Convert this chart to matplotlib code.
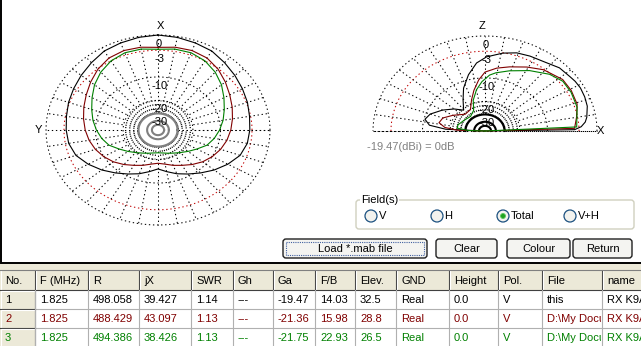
import numpy as np
import matplotlib.pyplot as plt
from matplotlib.patches import Rectangle, FancyBboxPatch, Circle
from matplotlib.transforms import Bbox, TransformedBbox

plt.rcParams['font.family'] = ['Liberation Sans', 'DejaVu Sans']

# relative gain (dB) of the three antennas
az_deg = [0, 10, 20, 30, 40, 50, 60, 70, 80, 90, 100, 110, 120, 130, 140, 150, 160, 170, 180]
az_black = [0, -0.17, -0.43, -0.70, -1.34, -1.90, -2.39, -2.79, -3.20, -3.41, -3.62, -4.26,
            -5.64, -7.26, -9.05, -10.73, -12.24, -13.9, -15.3]
az_red = [-2.39, -2.10, -2.0, -2.29, -3.09, -4.15, -5.17, -6.0, -6.74, -7.39, -8.07, -8.91,
          -9.95, -11.2, -12.8, -14.5, -15.9, -17.3, -18.0]
az_green = [-2.79, -2.49, -2.49, -3.0, -3.94, -5.17, -6.62, -7.93, -9.05, -10.26, -11.55, -13.1,
            -15.7, -18.0, -20.1, -21.8, -23.1, -24.1, -24.5]

el_black_deg = [0, 1, 3, 6, 9, 16, 22, 28, 33, 37, 45, 54, 63, 71, 79, 89, 96, 104, 113, 121, 131,
                140, 150, 160, 167, 173, 177, 180]
el_black = [-99, -3.83, -2.59, -1.81, -1.43, -0.88, -0.70, -0.61, -0.70, -0.88, -1.06, -1.81, -2.10,
            -2.39, -3.09, -4.26, -5.64, -8.48, -12.24, -16.6, -21.2,
            -17.5, -14.1, -11.2, -10.26, -11.9, -18.0, -99]
el_red_deg = [0, 2, 10, 19, 29, 38, 51, 61, 72, 81, 90, 96, 103, 110, 120, 135, 150, 160, 168, 174, 178, 180]
el_red = [-99, -3.83, -3.2, -2.39, -2.19, -2.19, -3.2, -4.49, -5.88, -6.87, -8.2, -10.57, -14.1,
          -18.0, -23.1, -23.8, -19.0, -15.7, -14.9, -17.5, -23.8, -99]
el_green_deg = [0, 3, 17, 28, 37, 46, 58, 71, 81, 86, 93, 100, 108, 115, 130, 150, 165, 173, 178, 180]
el_green = [-99, -3.41, -2.59, -2.39, -2.39, -3.2, -4.94, -6.87, -8.2, -9.05, -11.2, -14.1, -18.5,
            -24.5, -27.6, -26.0, -23.8, -23.8, -32.6, -99]

ring_db = [0, -3, -10, -20]
ring_lbl = ['0', '-3', '-10', '-20', '-30']
ring_lbl_db = [0, -3, -10, -20, -30]
center_db = [-30, -40, -50]

# table contents
headers = ["No.", "F (MHz)", "R", "jX", "SWR", "Gh", "Ga", "F/B", "Elev.", "GND", "Height", "Pol.", "File", "name"]
col_x = [0, 35, 88, 139, 191, 233, 273, 315, 355, 396, 449, 498, 542, 602, 700]
freq = [1.825, 1.825, 1.825]
res = [498.058, 488.429, 494.386]
reac = [39.427, 43.097, 38.426]
swr = [1.14, 1.13, 1.13]
ga = [-19.47, -21.36, -21.75]
fb = [14.03, 15.98, 22.93]
elev = [32.5, 28.8, 26.5]
files = ["this", "D:\\My Documents\\MMANA\\K9AY.maa", "D:\\My Documents\\MMANA\\K9AY2.maa"]
names = ["RX K9AY", "RX K9AY", "RX K9AY"]
colors = ['black', '#800000', '#008000']

W, H = 641, 346
fig = plt.figure(figsize=(W / 100, H / 100), dpi=100)
fig.patch.set_facecolor('#ece9d8')

ax = fig.add_axes([0, 0, 1, 1])
ax.set_xlim(0, W)
ax.set_ylim(H, 0)
ax.axis('off')

FS = 8
DOT = (0, (1.3, 2.6))

def arrl(db):
    return 0.89 ** (-np.asarray(db, dtype=float) / 2)

# white plot panel
ax.add_patch(Rectangle((0.5, -2), W + 2, 265, facecolor='white', edgecolor='black', lw=1.4))


def pattern_axes(cx, cy, a, b):
    pa = fig.add_axes([(cx - a) / W, 1 - (cy + b) / H, 2 * a / W, 2 * b / H])
    pa.set_xlim(-1, 1)
    pa.set_ylim(-1, 1)
    pa.axis('off')
    return pa


def grid(pa, t0, t1, center_col):
    t = np.radians(np.linspace(t0, t1, 400))
    for db in ring_db:
        r = arrl(db)
        pa.plot(r * np.cos(t), r * np.sin(t), linestyle=DOT, lw=0.75,
                color='#c00000' if db == -3 else 'black', clip_on=False)
    r30, r20 = arrl(-30), arrl(-20)
    for d in np.arange(t0, t1 + 1, 10):
        a = np.radians(d)
        pa.plot([r30 * np.cos(a), np.cos(a)], [r30 * np.sin(a), np.sin(a)],
                linestyle=DOT, lw=0.75, color='black', clip_on=False)
    for d in np.arange(t0 + 5, t1, 10):
        a = np.radians(d)
        pa.plot([r30 * np.cos(a), r20 * np.cos(a)], [r30 * np.sin(a), r20 * np.sin(a)],
                linestyle=DOT, lw=0.75, color='black', clip_on=False)
    for db in center_db:
        r = arrl(db)
        pa.plot(r * np.cos(t), r * np.sin(t), color=center_col, lw=1.5, clip_on=False)
    for lbl, db in zip(ring_lbl, ring_lbl_db):
        pa.text(0.01, arrl(db) - 0.095, lbl, fontsize=FS, ha='center', va='center', color='black')


# azimuth plot, X forward (up), Y to the left
paz = pattern_axes(158, 130, 112, 95)
grid(paz, 0, 360, '#808080')
ang = np.radians(np.concatenate([az_deg, 360 - np.array(az_deg[::-1])]))
for vals, c in zip([az_black, az_red, az_green], colors):
    r = arrl(np.concatenate([vals, vals[::-1]]))
    paz.plot(-r * np.sin(ang), r * np.cos(ang), color=c, lw=0.8, clip_on=False)
paz.text(0.02, 1.095, 'X', fontsize=FS, ha='center', va='center')
paz.text(-1.065, 0, 'Y', fontsize=FS, ha='center', va='center')

# elevation plot, X to the right, Z up
pel = pattern_axes(485, 131, 112, 95)
grid(pel, 0, 180, 'black')
pel.plot([-1, 1], [0, 0], linestyle=DOT, lw=0.75, color='black', clip_on=False)
for d, vals, c in zip([el_black_deg, el_red_deg, el_green_deg], [el_black, el_red, el_green], colors):
    a = np.radians(d)
    r = arrl(vals)
    pel.plot(r * np.cos(a), r * np.sin(a), color=c, lw=0.8, clip_on=False)
pel.text(-0.03, 1.105, 'Z', fontsize=FS, ha='center', va='center')
pel.text(1.03, 0, 'X', fontsize=FS, ha='center', va='center')
pel.text(-1.05, -0.17, f'{ga[0]:.2f}(dBi) = 0dB', fontsize=FS, ha='left', va='center', color='#808080')

# Field(s) group box
ax.add_patch(FancyBboxPatch((356, 200), 278, 29, boxstyle='round,pad=0,rounding_size=3',
                            facecolor='none', edgecolor='#d0d0bf', lw=1))
ax.text(361, 200, 'Field(s)', fontsize=FS, ha='left', va='center',
        bbox=dict(facecolor='white', edgecolor='none', pad=0.5))
for x, lbl, sel in zip([371, 437, 503, 570], ['V', 'H', 'Total', 'V+H'], [0, 0, 1, 0]):
    ax.add_patch(Circle((x, 216), 6, facecolor='#f2f2ee', edgecolor='#1c5180', lw=0.9))
    if sel:
        ax.add_patch(Circle((x, 216), 2.5, facecolor='#21a121', edgecolor='#5ac85a', lw=0.6))
    ax.text(x + 7.5, 216, lbl, fontsize=FS, ha='left', va='center')

# buttons
for x0, x1, lbl in [(283, 427, 'Load *.mab file'), (436, 497, 'Clear'),
                    (507, 570, 'Colour'), (573, 632, 'Return')]:
    ax.add_patch(FancyBboxPatch((x0, 239), x1 - x0, 19, boxstyle='round,pad=0,rounding_size=3',
                                facecolor='#f4f4f1', edgecolor='#202020', lw=1))
    ax.text((x0 + x1) / 2, 248.5, lbl, fontsize=FS, ha='center', va='center')
ax.add_patch(Rectangle((286, 242), 138, 13, facecolor='none', edgecolor='#4060a0',
                       lw=0.8, linestyle=(0, (1, 1))))

# table
row_y = [270, 290, 309, 328, 350]
ax.add_patch(Rectangle((0, 270), W, 80, facecolor='white', edgecolor='none'))


def cell_text(x0, x1, y, s, c):
    t = ax.text(x0 + 5, y, s, fontsize=FS, ha='left', va='center', color=c, clip_on=True)
    t.set_clip_box(TransformedBbox(Bbox([[x0 + 1, 0], [x1 - 1, H]]), ax.transData))


for i in range(len(headers)):
    x0, x1 = col_x[i], col_x[i + 1]
    ax.add_patch(Rectangle((x0, 270), x1 - x0, 20, facecolor='#ece9d8', edgecolor='none'))
    ax.plot([x0 + 1, x0 + 1], [271, 289], color='white', lw=0.8)
    ax.plot([x1 - 0.5, x1 - 0.5], [271, 290], color='#404040', lw=0.8)
    cell_text(x0, x1, 280.5, headers[i], 'black')
ax.plot([0, W], [270, 270], color='#808080', lw=0.8)
ax.plot([0, W], [290, 290], color='#404040', lw=0.8)

for j in range(3):
    y0, y1 = row_y[j + 1], row_y[j + 2]
    yc = (y0 + min(y1, 347)) / 2 + 0.5
    ax.add_patch(Rectangle((0, y0), 35, y1 - y0, facecolor='#ece9d8', edgecolor='none'))
    ax.plot([1, 1, 34], [y1 - 1, y0 + 1, y0 + 1], color='white', lw=0.8)
    ax.plot([0, 34.5, 34.5], [y1 - 0.5, y1 - 0.5, y0], color='#404040', lw=0.8)
    ax.plot([35, W], [y1 - 0.5, y1 - 0.5], color='#b0b0b0', lw=0.8)
    vals = [str(j + 1), f'{freq[j]:.3f}', f'{res[j]:.3f}', f'{reac[j]:.3f}', f'{swr[j]:.2f}', '---',
            f'{ga[j]:.2f}', f'{fb[j]:.2f}', f'{elev[j]:.1f}', 'Real', '0.0', 'V', files[j], names[j]]
    for i, s in enumerate(vals):
        cell_text(col_x[i], col_x[i + 1], yc, s, colors[j])
for x in col_x[1:-1]:
    ax.plot([x - 0.5, x - 0.5], [290, H], color='#b0b0b0', lw=0.8)

fig.savefig('out.png', dpi=100, facecolor=fig.get_facecolor())
